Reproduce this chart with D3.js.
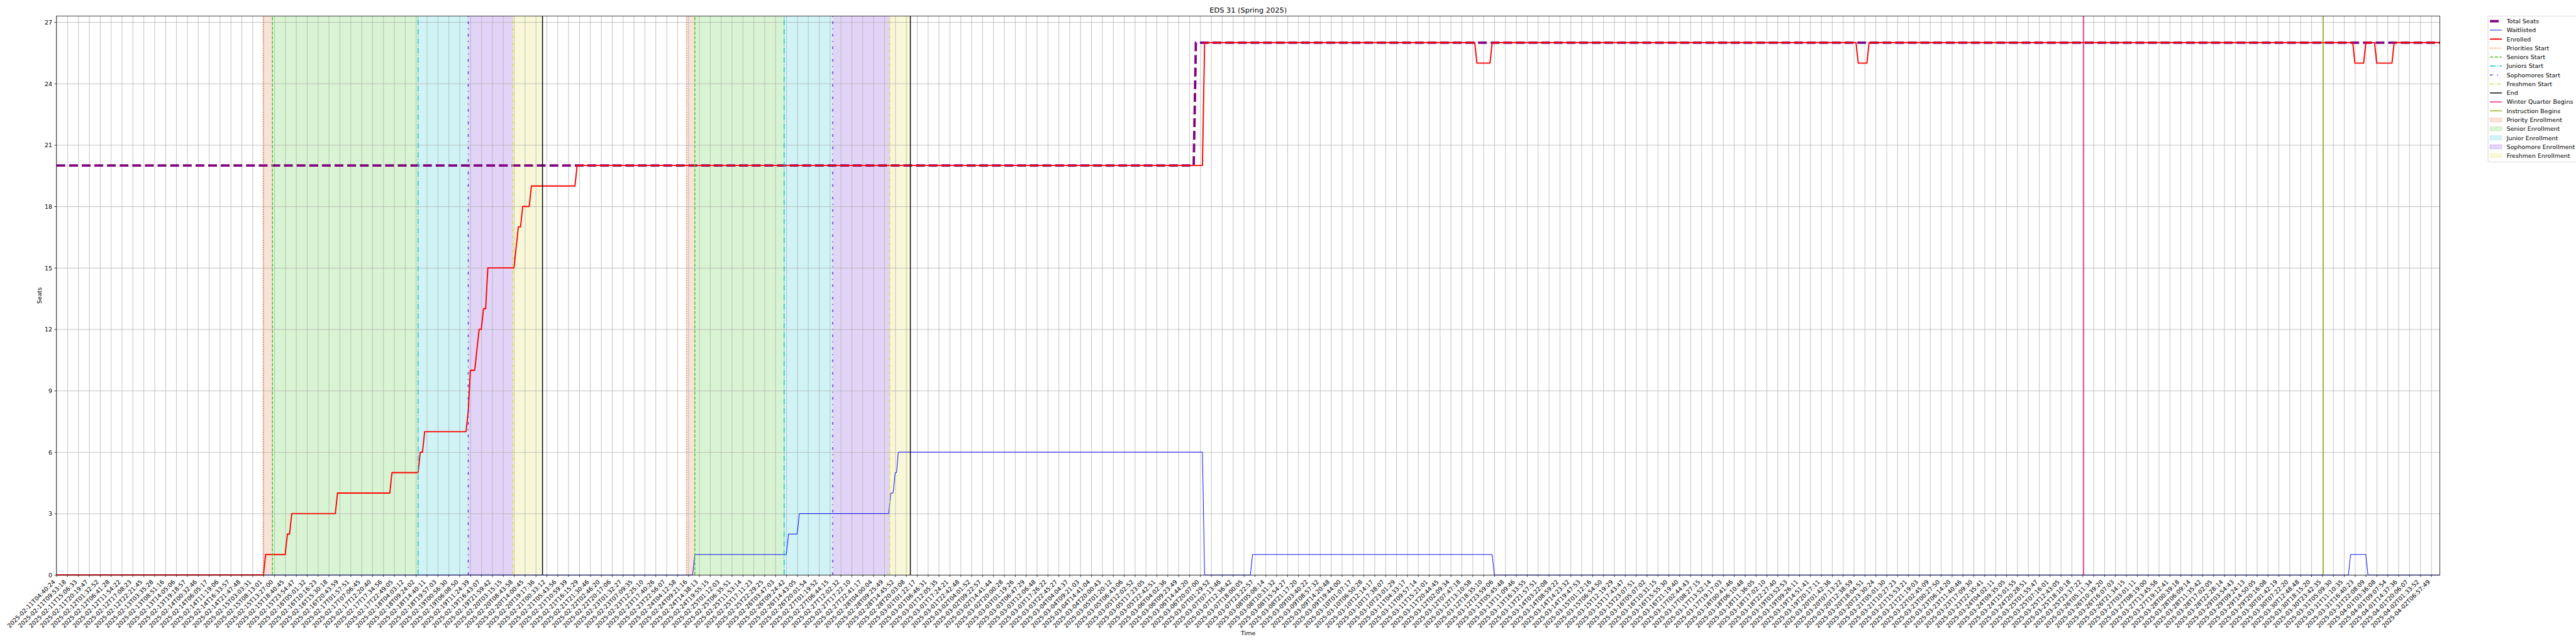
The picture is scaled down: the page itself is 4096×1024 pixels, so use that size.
<!DOCTYPE html>
<html><head><meta charset="utf-8">
<script src="https://cdn.jsdelivr.net/npm/d3@7"></script>
<style>html,body{margin:0;padding:0;background:#fff;overflow:hidden}</style>
</head><body>
<svg id="chart" width="4096" height="1024" viewBox="0 0 6000 1500"></svg>
<script>
// ---------------- data ----------------
const chartTitle = "EDS 31 (Spring 2025)";
const xLabel = "Time";
const yLabel = "Seats";

// one labelled tick every 5 samples; samples indexed 0..lastSample
const samplesPerTick = 5;
const lastSample = 1094;

const tickLabels = [
"2025-02-11T04:40:24","2025-02-11T09:53:18","2025-02-11T15:06:33","2025-02-11T20:19:47",
"2025-02-12T01:32:52","2025-02-12T06:41:28","2025-02-12T11:54:22","2025-02-12T17:08:23","2025-02-12T22:21:45",
"2025-02-13T03:35:28","2025-02-13T08:51:16","2025-02-13T14:05:06","2025-02-13T19:18:57",
"2025-02-14T00:32:46","2025-02-14T06:05:17","2025-02-14T11:19:06","2025-02-14T16:33:57","2025-02-14T21:47:48",
"2025-02-15T03:03:31","2025-02-15T08:13:01","2025-02-15T13:27:00","2025-02-15T18:40:45","2025-02-15T23:54:47",
"2025-02-16T05:01:32","2025-02-16T10:16:23","2025-02-16T15:30:18","2025-02-16T20:43:59",
"2025-02-17T01:57:51","2025-02-17T07:06:45","2025-02-17T12:20:40","2025-02-17T17:34:56","2025-02-17T22:49:05",
"2025-02-18T04:03:12","2025-02-18T09:24:02","2025-02-18T14:40:11","2025-02-18T19:57:03",
"2025-02-19T00:56:30","2025-02-19T06:08:50","2025-02-19T11:24:39","2025-02-19T16:43:07","2025-02-19T21:59:42",
"2025-02-20T03:15:15","2025-02-20T08:43:58","2025-02-20T14:00:45","2025-02-20T19:17:36",
"2025-02-21T00:33:12","2025-02-21T05:43:56","2025-02-21T10:59:39","2025-02-21T16:15:29","2025-02-21T21:30:46",
"2025-02-22T02:46:20","2025-02-22T20:17:06",
"2025-02-23T01:32:27","2025-02-23T07:09:35","2025-02-23T12:25:10","2025-02-23T17:40:26","2025-02-23T22:56:07",
"2025-02-24T04:12:58","2025-02-24T09:21:16","2025-02-24T14:38:13","2025-02-24T19:55:15",
"2025-02-25T01:12:03","2025-02-25T06:35:51","2025-02-25T11:53:14","2025-02-25T17:11:23","2025-02-25T22:29:25",
"2025-02-26T03:47:03","2025-02-26T09:24:42","2025-02-26T14:43:05","2025-02-26T20:01:54",
"2025-02-27T01:19:52","2025-02-27T06:44:15","2025-02-27T12:02:32","2025-02-27T17:22:10","2025-02-27T22:41:17",
"2025-02-28T04:00:04","2025-02-28T09:25:49","2025-02-28T14:45:52","2025-02-28T20:03:08",
"2025-03-01T01:22:17","2025-03-01T06:46:31","2025-03-01T12:05:35","2025-03-01T17:24:21","2025-03-01T22:42:48",
"2025-03-02T04:01:52","2025-03-02T09:22:57","2025-03-02T14:41:44","2025-03-02T20:00:28",
"2025-03-03T01:19:26","2025-03-03T06:47:29","2025-03-03T12:06:48","2025-03-03T17:26:22","2025-03-03T22:45:27",
"2025-03-04T04:04:37","2025-03-04T09:21:03","2025-03-04T14:41:04","2025-03-04T20:00:43",
"2025-03-05T01:20:12","2025-03-05T06:43:06","2025-03-05T12:02:52","2025-03-05T17:23:05","2025-03-05T22:42:51",
"2025-03-06T04:02:36","2025-03-06T09:23:49","2025-03-06T14:44:20","2025-03-06T20:07:00",
"2025-03-07T01:29:52","2025-03-07T07:13:46","2025-03-07T12:36:42","2025-03-07T18:00:05","2025-03-07T23:22:57",
"2025-03-08T05:08:14","2025-03-08T10:31:32","2025-03-08T15:54:27","2025-03-08T21:17:20",
"2025-03-09T03:40:22","2025-03-09T08:57:32","2025-03-09T14:20:48","2025-03-09T19:44:00",
"2025-03-10T01:07:17","2025-03-10T06:50:28","2025-03-10T12:14:17","2025-03-10T17:38:07","2025-03-10T23:01:29",
"2025-03-11T04:33:17","2025-03-11T09:57:14","2025-03-11T15:21:01","2025-03-11T20:44:45",
"2025-03-12T02:09:34","2025-03-12T07:47:18","2025-03-12T13:10:58","2025-03-12T18:35:10","2025-03-12T23:59:06",
"2025-03-13T05:45:48","2025-03-13T11:09:46","2025-03-13T16:33:55","2025-03-13T21:57:51",
"2025-03-14T03:22:08","2025-03-14T08:59:22","2025-03-14T14:23:32","2025-03-14T19:47:53",
"2025-03-15T01:12:16","2025-03-15T06:54:50","2025-03-15T12:19:29","2025-03-15T17:43:47","2025-03-15T23:07:51",
"2025-03-16T05:07:02","2025-03-16T10:31:15","2025-03-16T15:55:30","2025-03-16T21:19:40",
"2025-03-17T02:44:43","2025-03-17T08:27:15","2025-03-17T13:52:14","2025-03-17T19:17:03",
"2025-03-18T00:41:46","2025-03-18T06:10:48","2025-03-18T11:36:05","2025-03-18T17:02:10","2025-03-18T22:27:40",
"2025-03-19T03:52:53","2025-03-19T09:26:11","2025-03-19T14:51:41","2025-03-19T20:17:11",
"2025-03-20T01:42:36","2025-03-20T07:13:22","2025-03-20T12:38:59","2025-03-20T18:04:51","2025-03-20T23:30:24",
"2025-03-21T05:01:30","2025-03-21T10:27:23","2025-03-21T15:53:21","2025-03-21T21:19:03",
"2025-03-22T02:45:09",
"2025-03-23T00:27:50","2025-03-23T06:14:20","2025-03-23T11:40:46","2025-03-23T17:09:30","2025-03-23T22:35:41",
"2025-03-24T04:02:11","2025-03-24T09:35:05","2025-03-24T15:01:55","2025-03-24T20:28:51",
"2025-03-25T01:55:47","2025-03-25T07:16:01","2025-03-25T12:43:05","2025-03-25T18:10:18","2025-03-25T23:37:22",
"2025-03-26T05:11:34","2025-03-26T10:39:20","2025-03-26T16:07:03","2025-03-26T21:34:15",
"2025-03-27T03:01:11","2025-03-27T08:19:00","2025-03-27T13:45:56","2025-03-27T19:12:41",
"2025-03-28T00:39:18","2025-03-28T06:09:14","2025-03-28T11:35:42","2025-03-28T17:02:05","2025-03-28T22:28:14",
"2025-03-29T03:54:43","2025-03-29T09:24:13","2025-03-29T14:50:05","2025-03-29T20:16:08",
"2025-03-30T01:42:19","2025-03-30T07:22:20","2025-03-30T12:48:48","2025-03-30T18:15:20","2025-03-30T23:42:35",
"2025-03-31T05:09:30","2025-03-31T11:10:35","2025-03-31T16:40:23","2025-03-31T22:08:09",
"2025-04-01T03:36:08","2025-04-01T09:07:54","2025-04-01T14:37:36","2025-04-01T20:06:07",
"2025-04-02T01:33:52","2025-04-02T06:57:49"
];

const yTicks = [0, 3, 6, 9, 12, 15, 18, 21, 24, 27];
const yMax = 27.3;

// series: [sample index, seats]
const totalSeats = [[0,20],[522,20],[523,26],[1094,26]];
const waitlisted = [[0,0],[292,0],[293,1],[335,1],[336,2],[340,2],[341,3],[382,3],[383,4],[384,4],[385,5],[385.6,5],[386.4,6],
  [526,6],[527,0],[548,0],[549,1],[659,1],[660,0],[1052,0],[1053,1],[1060,1],[1061,0],[1094,0]];
const enrolled = [[0,0],[95,0],[96,1],[105,1],[106,2],[107,2],[108,3],[128,3],[129,4],[153,4],[154,5],
  [166,5],[167,6],[168,6],[169,7],[188,7],[189,8],[190,10],[192,10],[193,11],[194,12],[195,12],[196,13],[197,13],[198,15],
  [210,15],[211,16],[212,17],[213,17],[214,18],[217,18],[218,19],[238,19],[239,20],
  [526,20],[527,26],[651,26],[652,25],[658,25],[659,26],[826,26],[827,25],[831,25],[832,26],
  [1054,26],[1055,25],[1059,25],[1060,26],[1064,26],[1065,25],[1072,25],[1073,26],[1094,26]];

// enrollment window boundaries (sample positions): priorities, seniors, juniors, sophomores, freshmen, end
const windowStarts = ["Priorities Start","Seniors Start","Juniors Start","Sophomores Start","Freshmen Start","End"];
const bandNames = ["Priority Enrollment","Senior Enrollment","Junior Enrollment","Sophomore Enrollment","Freshmen Enrollment"];
const firstPass  = [94.9, 99.15, 166.0, 189.0, 209.5, 223.1];
const secondPass = [289.2, 293.0, 334.0, 356.3, 382.5, 391.95];
const winterQuarterBegins = 930.5;
const instructionBegins = 1040.5;

// ---------------- styles ----------------
const PT = 1.3889; // px per point in the 6000x1500 reference
const markerStyle = {
  "Priorities Start": {color:"#ec6428", dash:[1,1.65]},
  "Seniors Start":    {color:"#3cc81e", dash:[3.7,1.6]},
  "Juniors Start":    {color:"#14c3d0", dash:[6.4,1.6,1,1.6]},
  "Sophomores Start": {color:"#6b26d6", dash:[3,5,1,5]},
  "Freshmen Start":   {color:"#dcdc3c", dash:[4,1.5,1,1.5]},
  "End":              {color:"#000000", dash:null}
};
const bandColor = ["#e0703c","#3cc81e","#14c3d0","#6b26d6","#dcdc3c"];
const winterColor = "#e2139b", instructionColor = "#8ab512";
const markerLw = 1.5*PT;
const font = "DejaVu Sans";
const fs = 10*PT;

// ---------------- layout ----------------
const L = 131.5, R = 5683, T = 37.3, B = 1339.3;
const svg = d3.select("#chart");
const x = d3.scaleLinear().domain([0, lastSample]).range([L, R]);
const y = d3.scaleLinear().domain([0, yMax]).range([B, T]);
const tickVals = tickLabels.map((_, i) => i * samplesPerTick);

svg.append("rect").attr("width",6000).attr("height",1500).attr("fill","#fff");

// bands
const bands = svg.append("g");
[firstPass, secondPass].forEach(p => {
  for (let k = 0; k < 5; k++) {
    bands.append("rect").attr("x", x(p[k])).attr("y", T)
      .attr("width", x(p[k+1]) - x(p[k])).attr("height", B - T)
      .attr("fill", bandColor[k]).attr("fill-opacity", 0.2);
  }
});

// grid
const gridX = svg.append("g").attr("transform", `translate(0,${B})`)
  .call(d3.axisBottom(x).tickValues(tickVals).tickSize(-(B - T)).tickFormat(""));
gridX.select(".domain").remove();
gridX.selectAll("line").attr("stroke", "#b0b0b0").attr("stroke-width", 0.8*PT);
const gridY = svg.append("g").attr("transform", `translate(${L},0)`)
  .call(d3.axisLeft(y).tickValues(yTicks).tickSize(-(R - L)).tickFormat(""));
gridY.select(".domain").remove();
gridY.selectAll("line").attr("stroke", "#b0b0b0").attr("stroke-width", 0.8*PT);

// series
const line = d3.line().x(d => x(d[0])).y(d => y(d[1]));
const lw = 4*PT;
svg.append("path").datum(totalSeats).attr("d", line).attr("fill","none")
  .attr("stroke","#800080").attr("stroke-width", lw)
  .attr("stroke-dasharray", `${3.7*lw},${1.6*lw}`);
svg.append("path").datum(waitlisted).attr("d", line).attr("fill","none")
  .attr("stroke","#0000ff").attr("stroke-width", 1*PT).attr("stroke-linejoin","round");
svg.append("path").datum(enrolled).attr("d", line).attr("fill","none")
  .attr("stroke","#ff0000").attr("stroke-width", 2*PT).attr("stroke-linejoin","round");

// vertical markers
const markers = svg.append("g");
function vline(v, color, dash) {
  const l = markers.append("line").attr("x1", x(v)).attr("x2", x(v)).attr("y1", B).attr("y2", T)
    .attr("stroke", color).attr("stroke-width", markerLw);
  if (dash) l.attr("stroke-dasharray", dash.map(d => d*markerLw).join(","));
}
[firstPass, secondPass].forEach(p => {
  windowStarts.forEach((n, k) => vline(p[k], markerStyle[n].color, markerStyle[n].dash));
});
vline(winterQuarterBegins, winterColor, null);
vline(instructionBegins, instructionColor, null);

// spines
svg.append("rect").attr("x", L).attr("y", T).attr("width", R - L).attr("height", B - T)
  .attr("fill","none").attr("stroke","#000").attr("stroke-width", 0.8*PT);

// x axis
const ax = svg.append("g").attr("transform", `translate(0,${B})`)
  .call(d3.axisBottom(x).tickValues(tickVals).tickSize(3.5*PT).tickSizeOuter(0)
    .tickFormat((d, i) => tickLabels[i]));
ax.select(".domain").remove();
ax.selectAll("line").attr("stroke","#000").attr("stroke-width", 0.8*PT);
ax.selectAll("text").attr("x", null).attr("y", null).attr("dy", null)
  .attr("text-anchor","end").attr("fill","#000")
  .attr("font-family", font).attr("font-size", fs)
  .attr("transform", `translate(${-0.707*0.236*fs},${7*PT + 0.707*0.76*fs}) rotate(-45)`);

// y axis
const ay = svg.append("g").attr("transform", `translate(${L},0)`)
  .call(d3.axisLeft(y).tickValues(yTicks).tickSize(3.5*PT).tickPadding(3.5*PT).tickSizeOuter(0));
ay.select(".domain").remove();
ay.selectAll("line").attr("stroke","#000").attr("stroke-width", 0.8*PT);
ay.selectAll("text").attr("fill","#000").attr("font-family", font).attr("font-size", fs).attr("dy","0.36em");

// titles
svg.append("text").attr("x", (L + R)/2).attr("y", T - 6*PT).attr("text-anchor","middle")
  .attr("font-family", font).attr("font-size", 12*PT).text(chartTitle);
svg.append("text").attr("x", (L + R)/2).attr("y", 1480).attr("text-anchor","middle")
  .attr("font-family", font).attr("font-size", fs).text(xLabel);
svg.append("text").attr("transform", `translate(97,${(T + B)/2}) rotate(-90)`).attr("text-anchor","middle")
  .attr("font-family", font).attr("font-size", fs).text(yLabel);

// legend
const legendItems = [
  {label:"Total Seats", kind:"line", color:"#800080", width:lw, dash:[3.7*lw,1.6*lw]},
  {label:"Waitlisted", kind:"line", color:"#0000ff", width:1*PT, dash:null},
  {label:"Enrolled", kind:"line", color:"#ff0000", width:2*PT, dash:null},
  ...windowStarts.map(n => ({label:n, kind:"line", color:markerStyle[n].color, width:markerLw,
      dash: markerStyle[n].dash ? markerStyle[n].dash.map(d => d*markerLw) : null})),
  {label:"Winter Quarter Begins", kind:"line", color:winterColor, width:markerLw, dash:null},
  {label:"Instruction Begins", kind:"line", color:instructionColor, width:markerLw, dash:null},
  ...bandNames.map((n, k) => ({label:n, kind:"patch", color:bandColor[k]}))
];
const lg = svg.append("g");
const lgX = 5795, lgY = 37.3, rowH = 20.9, firstRow = 49.3;
lg.append("rect").attr("x", lgX).attr("y", lgY).attr("width", 230).attr("height", 340)
  .attr("rx", 2.8).attr("fill","#fff").attr("fill-opacity",0.8)
  .attr("stroke","#cccccc").attr("stroke-width", 0.8*PT);
const hx0 = 5799.5, hLen = 2*fs, tx = hx0 + hLen + 0.8*fs;
legendItems.forEach((it, k) => {
  const cy = firstRow + k*rowH;
  if (it.kind === "line") {
    const l = lg.append("line").attr("x1", hx0).attr("x2", hx0 + hLen).attr("y1", cy).attr("y2", cy)
      .attr("stroke", it.color).attr("stroke-width", it.width);
    if (it.dash) l.attr("stroke-dasharray", it.dash.join(","));
  } else {
    lg.append("rect").attr("x", hx0).attr("y", cy - 0.35*fs).attr("width", hLen).attr("height", 0.7*fs)
      .attr("fill", it.color).attr("fill-opacity", 0.2)
      .attr("stroke", it.color).attr("stroke-opacity", 0.2).attr("stroke-width", PT);
  }
  lg.append("text").attr("x", tx).attr("y", cy + 0.36*fs).attr("font-family", font).attr("font-size", fs)
    .attr("fill","#000").text(it.label);
});
</script>
</body></html>
